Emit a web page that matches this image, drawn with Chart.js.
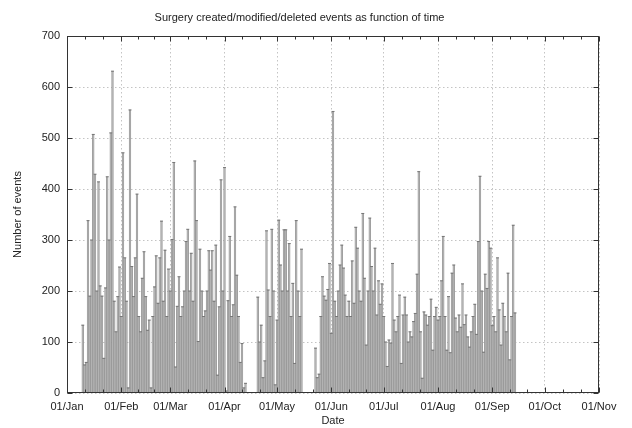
<!DOCTYPE html>
<html>
<head>
<meta charset="utf-8">
<script src="https://cdn.jsdelivr.net/npm/chart.js@4"></script>
<style>
  html, body { margin: 0; padding: 0; background: #fff; }
  #wrap { width: 632px; height: 428px; }
</style>
</head>
<body>
<div id="wrap"><canvas id="eventsChart" width="632" height="428"></canvas></div>
<script>
// x axis: day of year, 0 = 1 Jan
var monthDays = [0, 31, 59, 90, 120, 151, 181, 212, 243, 273, 304];
var monthLabels = ['01/Jan', '01/Feb', '01/Mar', '01/Apr', '01/May', '01/Jun',
                   '01/Jul', '01/Aug', '01/Sep', '01/Oct', '01/Nov'];
var yTicks = [0, 100, 200, 300, 400, 500, 600, 700];

// one value per day starting at day 9 (10 Jan), null = no data that day
var firstDay = 9;
var events = [
  133, 55, 60, 338, 190, 300, 507, 429, 200, 414, 210, 190, 68, 206, 424, 300, 510, 631, 180, 120,  // 9..28
  189, 247, 150, 471, 265, 180, 10, 555, 248, 189, 265, 390, 150, 120, 225, 277, 189, 123, 143, 10, // 29..48
  150, 208, 269, 176, 265, 337, 180, 280, 150, 243, 200, 301, 452, 51, 170, 228, 150, 169, 200, 297, // 49..68
  321, 200, 274, 180, 455, 338, 101, 282, 200, 150, 161, 200, 279, 241, 279, 180, 290, 35, 169, 418, // 69..88
  200, 442, 4, 181, 307, 150, 173, 365, 231, 150, 60, 97, 10, 19,                                   // 89..102
  null, null, null, null, null, null,                                                               // 103..108
  188, 100, 133, 30, 63, 318, 202, 150, 321, 200, 16, 143, 339, 251, 200, 320, 320, 200, 293, 150,   // 109..128
  215, 58, 338, 200, 150, 282,                                                                      // 129..134
  null, null, null, null, null, null, null,                                                         // 135..141
  88, 30, 37, 150, 228, 190, 182, 203, 254, 117, 552, 180, 150, 200, 251, 290, 245, 192, 150, 180,   // 142..161
  150, 259, 176, 325, 284, 200, 180, 352, 225, 94, 200, 343, 248, 200, 284, 153, 220, 174, 214, 150, // 162..181
  100, 52, 104, 98, 254, 143, 120, 150, 192, 58, 153, 188, 153, 100, 120, 110, 140, 156, 233, 434,   // 182..201
  120, 29, 159, 153, 133, 150, 184, 84, 150, 168, 143, 150, 220, 307, 150, 84, 189, 79, 235, 251,    // 202..221
  147, 120, 153, 129, 214, 134, 153, 110, 90, 120, 150, 174, 115, 297, 425, 200, 80, 233, 205, 297,  // 222..241
  284, 132, 150, 120, 265, 163, 94, 176, 150, 120, 235, 65, 150, 329, 157                           // 242..256
];

var points = [];
events.forEach(function (v, i) {
  if (v !== null) points.push({ x: firstDay + i, y: v });
});

var fontFamily = "'Liberation Sans', Arial, sans-serif";

// gnuplot style frame with inward tics on all four sides
var framePlugin = {
  id: 'frame',
  afterDraw: function (chart) {
    var ctx = chart.ctx, a = chart.chartArea;
    var xs = chart.scales.x, ys = chart.scales.y;
    var l = Math.round(a.left) + 0.5, r = Math.round(a.right) - 0.5;
    var t = Math.round(a.top) + 0.5, b = Math.round(a.bottom) - 0.5;
    ctx.save();
    ctx.strokeStyle = '#333';
    ctx.lineWidth = 1;
    ctx.beginPath();
    monthDays.forEach(function (d, i) {
      var px = Math.round(xs.getPixelForValue(d)) + 0.5;
      ctx.moveTo(px, b); ctx.lineTo(px, b - 5);
      ctx.moveTo(px, t); ctx.lineTo(px, t + 5);
      if (i < monthDays.length - 1) {
        var step = (monthDays[i + 1] - d) / 3;
        for (var k = 1; k < 3; k++) {
          var mx = Math.round(xs.getPixelForValue(d + k * step)) + 0.5;
          ctx.moveTo(mx, b); ctx.lineTo(mx, b - 3);
          ctx.moveTo(mx, t); ctx.lineTo(mx, t + 3);
        }
      }
    });
    yTicks.forEach(function (v) {
      var py = Math.round(ys.getPixelForValue(v)) + 0.5;
      ctx.moveTo(l, py); ctx.lineTo(l + 5, py);
      ctx.moveTo(r, py); ctx.lineTo(r - 5, py);
    });
    ctx.stroke();
    ctx.strokeRect(l, t, r - l, b - t);
    ctx.restore();
  }
};

var ctx = document.getElementById('eventsChart').getContext('2d');
new Chart(ctx, {
  type: 'bar',
  data: {
    datasets: [
      {
        type: 'line',
        label: 'tops',
        data: points,
        showLine: false,
        pointStyle: 'line',
        pointRadius: 1.5,
        pointBorderWidth: 1,
        pointBorderColor: '#777',
        order: 0
      },
      {
        label: 'events',
        data: points,
        backgroundColor: '#b3b3b3',
        borderColor: '#8e8e8e',
        borderWidth: 0.6,
        borderSkipped: 'bottom',
        categoryPercentage: 1.0,
        barPercentage: 1.0,
        order: 1
      }
    ]
  },
  plugins: [framePlugin],
  options: {
    responsive: false,
    animation: false,
    devicePixelRatio: 1,
    layout: { padding: { left: 0, right: 33, top: 0, bottom: 0 } },
    plugins: {
      legend: { display: false },
      tooltip: { enabled: false },
      title: {
        display: true,
        text: 'Surgery created/modified/deleted events as function of time',
        color: '#222',
        font: { family: fontFamily, size: 11, weight: 'normal' },
        padding: { top: 11, bottom: 11.8 }
      }
    },
    scales: {
      x: {
        type: 'linear',
        min: 0,
        max: 304,
        offset: false,
        afterFit: function (scale) { scale.height = 35; },
        afterBuildTicks: function (scale) {
          scale.ticks = monthDays.map(function (d) { return { value: d }; });
        },
        ticks: {
          autoSkip: false,
          maxRotation: 0,
          padding: 7,
          color: '#222',
          font: { family: fontFamily, size: 11 },
          callback: function (value) {
            var i = monthDays.indexOf(value);
            return i >= 0 ? monthLabels[i] : '';
          }
        },
        grid: { color: '#c4c4c4', lineWidth: 1, drawTicks: false, offset: false },
        border: { display: false, dash: [1.5, 2.5] },
        title: {
          display: true,
          text: 'Date',
          color: '#222',
          font: { family: fontFamily, size: 11 },
          padding: { top: 0, bottom: 0 }
        }
      },
      y: {
        min: 0,
        max: 700,
        afterFit: function (scale) { scale.width = 67; },
        afterBuildTicks: function (scale) {
          scale.ticks = yTicks.map(function (v) { return { value: v }; });
        },
        ticks: {
          padding: 7,
          color: '#222',
          font: { family: fontFamily, size: 11 }
        },
        grid: { color: '#c4c4c4', lineWidth: 1, drawTicks: false },
        border: { display: false, dash: [1.5, 2.5] },
        title: {
          display: true,
          text: 'Number of events',
          color: '#222',
          font: { family: fontFamily, size: 11 },
          padding: { top: 11, bottom: 0 }
        }
      }
    }
  }
});
</script>
</body>
</html>
